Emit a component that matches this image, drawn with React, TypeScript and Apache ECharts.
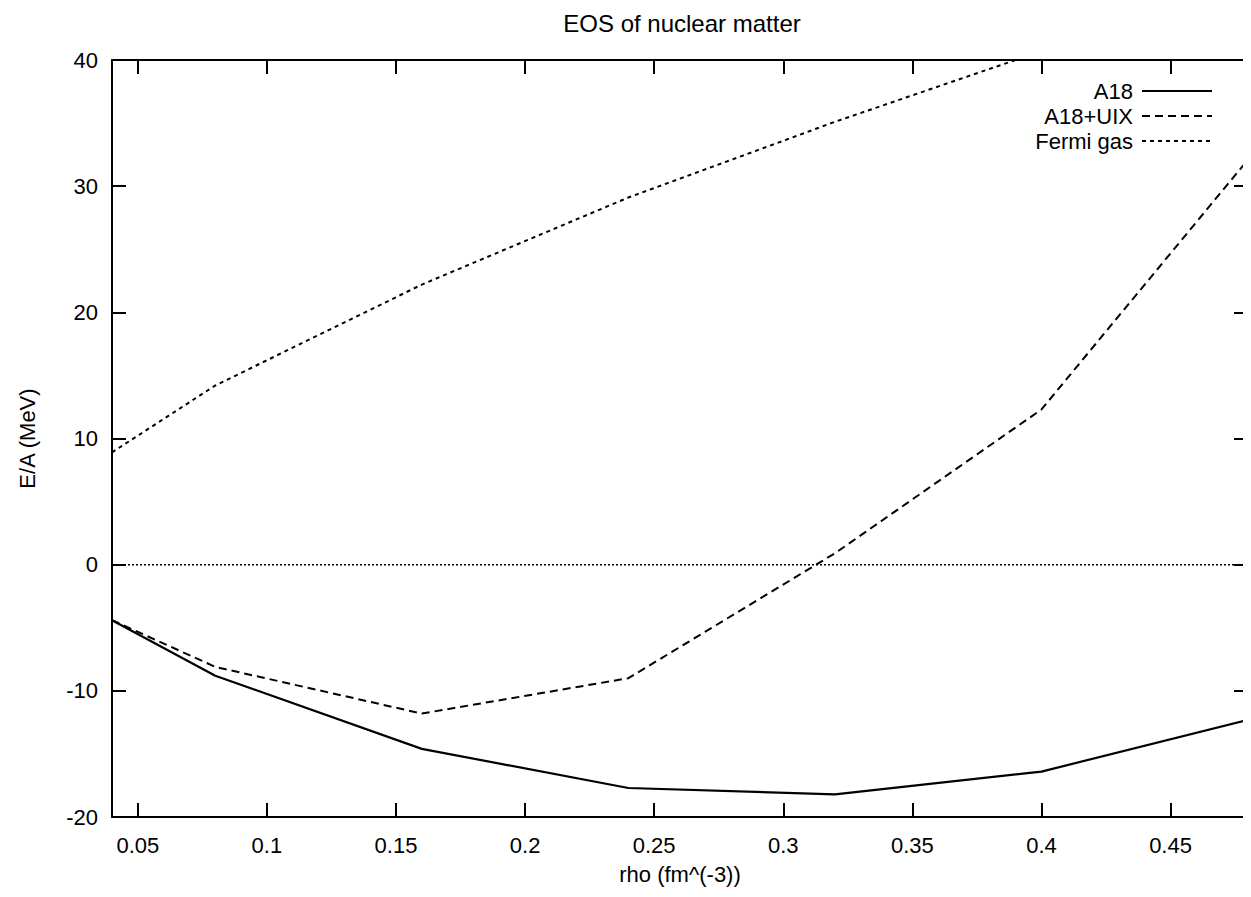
import React, { useEffect, useRef } from "react";
import * as echarts from "echarts";

const rho = [0.04, 0.08, 0.16, 0.24, 0.32, 0.40, 0.48];
const a18 = [-4.4, -8.8, -14.6, -17.7, -18.2, -16.4, -12.3];
const a18uix = [-4.4, -8.1, -11.8, -9.0, 0.9, 12.3, 32.1];
const fermi = [8.9, 14.2, 22.2, 29.1, 35.1, 40.7, 46.0];
const zeroLine = [0, 0];
const zeroX = [0.04, 0.48];
const titleText = "EOS of nuclear matter";
const xName = "rho (fm^(-3))";
const yName = "E/A (MeV)";

const FONT = "'Liberation Sans', Arial, Helvetica, sans-serif";

export default function App() {
  const ref = useRef<HTMLDivElement>(null);
  useEffect(() => {
    if (!ref.current) return;
    const chart = echarts.init(ref.current, undefined, { renderer: "svg" });
    const pair = (xs: number[], ys: number[]) => xs.map((x, i) => [x, ys[i]]);
    const axisLine = () => ({ show: true, onZero: false, lineStyle: { color: "#000", width: 2 } });
    const axisTick = () => ({ show: true, inside: true, length: 14, lineStyle: { color: "#000", width: 2 } });
    chart.setOption({
      animation: false,
      backgroundColor: "#fff",
      textStyle: { fontFamily: FONT },
      graphic: [
        {
          type: "text",
          x: 682,
          y: 23,
          style: {
            text: titleText,
            fontFamily: FONT,
            fontSize: 24,
            fill: "#000",
            textAlign: "center",
            textVerticalAlign: "middle",
          },
        },
      ],
      grid: { left: 112, right: 3, top: 60, bottom: 80, containLabel: false },
      legend: {
        data: ["A18", "A18+UIX", "Fermi gas"],
        orient: "vertical",
        align: "right",
        right: 33,
        top: 75,
        itemWidth: 70,
        itemHeight: 12,
        itemGap: 3,
        itemStyle: { opacity: 0 },
        textStyle: { fontFamily: FONT, fontSize: 22, lineHeight: 21, color: "#000", padding: [0, 4, 0, 0] },
        selectedMode: false,
      },
      xAxis: [
        {
          type: "value",
          min: 0.04,
          max: 0.48,
          splitNumber: 9,
          name: xName,
          nameLocation: "middle",
          nameGap: 46,
          nameTextStyle: { fontFamily: FONT, fontSize: 22, color: "#000" },
          axisLine: axisLine(),
          axisTick: axisTick(),
          splitLine: { show: false },
          axisLabel: {
            fontFamily: FONT,
            fontSize: 22,
            color: "#000",
            margin: 17,
            showMinLabel: false,
            showMaxLabel: false,
          },
        },
        {
          type: "value",
          position: "top",
          min: 0.04,
          max: 0.48,
          splitNumber: 9,
          axisLine: axisLine(),
          axisTick: axisTick(),
          splitLine: { show: false },
          axisLabel: { show: false },
        },
      ],
      yAxis: [
        {
          type: "value",
          min: -20,
          max: 40,
          interval: 10,
          name: yName,
          nameLocation: "middle",
          nameRotate: 90,
          nameGap: 74,
          nameTextStyle: { fontFamily: FONT, fontSize: 22, color: "#000" },
          axisLine: axisLine(),
          axisTick: axisTick(),
          splitLine: { show: false },
          axisLabel: { fontFamily: FONT, fontSize: 22, color: "#000", margin: 14 },
        },
        {
          type: "value",
          position: "right",
          min: -20,
          max: 40,
          interval: 10,
          axisLine: axisLine(),
          axisTick: axisTick(),
          splitLine: { show: false },
          axisLabel: { show: false },
        },
      ],
      series: [
        {
          name: "zero",
          type: "line",
          data: pair(zeroX, zeroLine),
          symbol: "none",
          lineStyle: { color: "#000", width: 1.5, type: [2, 2] },
          silent: true,
        },
        {
          name: "A18",
          type: "line",
          data: pair(rho, a18),
          symbol: "none",
          itemStyle: { color: "#000" },
          lineStyle: { color: "#000", width: 2.2, type: "solid" },
        },
        {
          name: "A18+UIX",
          type: "line",
          data: pair(rho, a18uix),
          symbol: "none",
          itemStyle: { color: "#000" },
          lineStyle: { color: "#000", width: 2, type: [8, 5] },
        },
        {
          name: "Fermi gas",
          type: "line",
          data: pair(rho, fermi),
          symbol: "none",
          clip: true,
          itemStyle: { color: "#000" },
          lineStyle: { color: "#000", width: 2, type: [4, 4] },
        },
      ],
    });
    return () => chart.dispose();
  }, []);
  return <div ref={ref} style={{ width: 1251, height: 897, margin: -8 }} />;
}
